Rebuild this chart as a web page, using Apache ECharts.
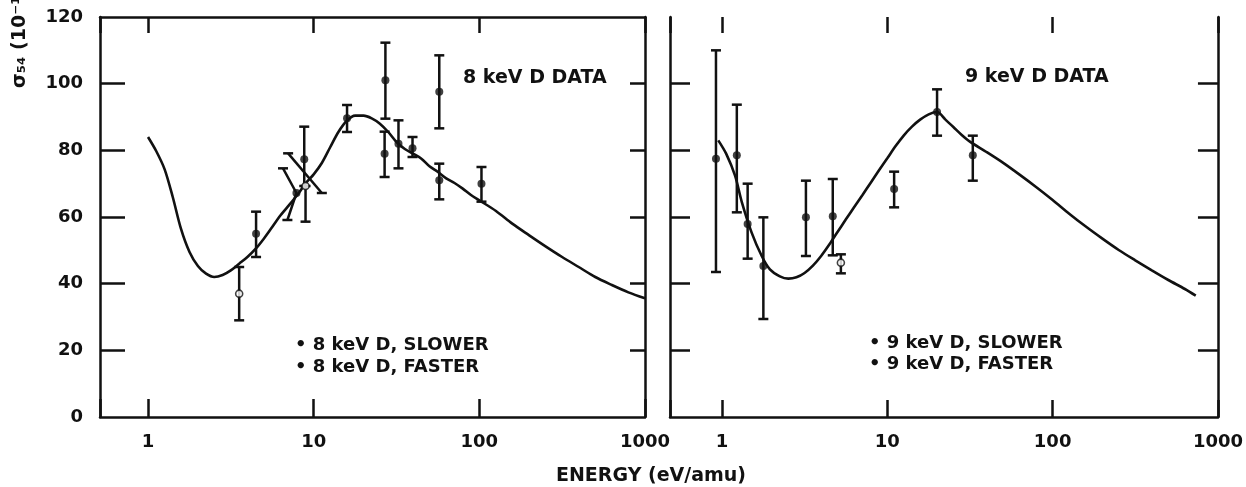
<!DOCTYPE html>
<html><head><meta charset="utf-8">
<script src="https://cdn.jsdelivr.net/npm/echarts@6/dist/echarts.min.js"></script>
<style>html,body{margin:0;padding:0;background:#fff}#c{width:1246px;height:487px}</style>
</head><body><div id="c"></div>
<script>
// ---- data ----
const yTickValues = [0, 20, 40, 60, 80, 100, 120];
const xTickLabels = ['1', '10', '100', '1000'];

// left panel: 8 keV D data — theory curve [energy eV/amu, sigma]
const leftCurve = [[1.0,84],[1.12,79.8],[1.26,74.3],[1.41,66],[1.58,56.5],[1.78,49.5],[2.0,45.3],[2.24,43],[2.51,42],[2.82,42.6],[3.16,44],[3.55,46],[3.98,48],[4.47,50.5],[5.0,53.5],[5.62,57],[6.31,60.5],[7.08,63.5],[7.94,66.5],[8.91,70],[10,72.8],[11.2,76.2],[12.6,81],[14.1,85.5],[15.8,88.8],[17.8,90.4],[20,90.4],[22.4,89.6],[25.1,88],[28.2,85.5],[31.6,82.5],[35.5,80.4],[39.8,79],[44.7,77.5],[50,75.2],[56.2,73.5],[63.1,71.6],[70.8,70.2],[79.4,68.5],[89,66.6],[100,65],[126,61.8],[158,58],[200,54.5],[251,51.2],[316,48],[398,45],[501,42],[631,39.6],[794,37.4],[1000,35.6]];
const leftFilled = [[4.49,55],[7.87,67.2],[8.77,77.3],[15.9,89.6],[27.1,101],[26.8,79],[32.5,82],[39.5,80.6],[57.3,97.6],[57.3,71],[103,70]];
const leftOpen = [[3.55,37],[8.93,69.3]];
const leftErrors = [[3.55,29,45],[4.49,48,61.6],[8.77,69.3,87.1],[8.93,58.6,69.3],[15.9,85.5,93.6],[27.1,89.5,112.3],[26.8,72,85.6],[32.5,74.6,89],[39.5,78,84],[57.3,86.6,108.5],[57.3,65.3,76],[103,64.6,75]];
// slanted bars: polylines [E1,v1,E2,v2,(E3,v3)]
const leftSlanted = [[7.01,79.1,11.2,67.2],[6.53,74.6,7.87,67.2,6.94,59.1]];

// right panel: 9 keV D data
const rightCurve = [[0.95,83],[1.06,79],[1.2,72.4],[1.32,64.4],[1.51,55.4],[1.74,48.3],[1.95,44.3],[2.24,42.2],[2.52,41.5],[2.82,41.9],[3.16,43.2],[3.55,45.4],[3.98,48.3],[4.47,51.8],[5.0,55.5],[5.62,59.3],[6.31,63],[7.08,66.6],[7.94,70.3],[8.91,74],[10,77.6],[11.2,81.2],[12.6,84.5],[14.1,87.1],[15.8,89.2],[17.8,90.8],[20,91.5],[22.4,89.3],[25.1,87],[28.2,84.6],[31.6,82.6],[39.8,79.5],[50,76.3],[63.1,72.7],[79.4,69],[100,65.1],[126,61],[158,57.2],[200,53.5],[251,50.1],[316,47],[398,44],[501,41.1],[631,38.4],[734,36.4]];
const rightFilled = [[0.92,77.5],[1.23,78.5],[1.43,57.9],[1.78,45.3],[3.22,59.9],[4.68,60.2],[11,68.4],[20,91.5],[32.9,78.5]];
const rightOpen = [[5.24,46.3]];
const rightErrors = [[0.92,43.5,110],[1.23,61.4,93.7],[1.43,47.5,70],[1.78,29.4,59.9],[3.22,48.3,70.9],[4.68,48.5,71.4],[5.24,43.1,48.8],[11,62.9,73.6],[20,84.4,98.3],[32.9,70.9,84.4]];

// ---- chart ----
const INK = '#111';
const FONT = 'DejaVu Sans';
function xLabel(v) {
  const l = Math.log10(v);
  const r = Math.round(l);
  return Math.abs(l - r) < 1e-6 && r >= 0 && r < xTickLabels.length ? xTickLabels[r] : '';
}
function xAxis(grid, pos, min, max, showLine, tickLen, showLabel) {
  return {
    type: 'log', logBase: 10, gridIndex: grid, position: pos, min: min, max: max,
    axisLine: { show: showLine, onZero: false, lineStyle: { color: INK, width: 2.5 } },
    axisTick: { show: true, inside: true, length: tickLen, lineStyle: { color: INK, width: 2.5 } },
    axisLabel: showLabel ? { show: true, formatter: xLabel, color: INK, fontFamily: FONT, fontWeight: 'bold', fontSize: 18, margin: 16 } : { show: false },
    splitLine: { show: false }, minorTick: { show: false }, minorSplitLine: { show: false }
  };
}
function yAxis(grid, pos, tickLen, showLabel) {
  return {
    type: 'value', gridIndex: grid, position: pos, min: 0, max: 120, interval: 20,
    axisLine: { show: true, onZero: false, lineStyle: { color: INK, width: 2.5 } },
    axisTick: { show: true, inside: true, length: tickLen, lineStyle: { color: INK, width: 2.5 }, customValues: yTickValues.slice(1, -1) },
    axisLabel: showLabel ? { show: true, color: INK, fontFamily: FONT, fontWeight: 'bold', fontSize: 18, margin: 17, customValues: yTickValues } : { show: false },
    splitLine: { show: false }
  };
}
const errRender = function (params, api) {
  const x = api.value(0), lo = api.value(1), hi = api.value(2);
  const p1 = api.coord([x, lo]), p2 = api.coord([x, hi]);
  const w = 5;
  const st = { stroke: INK, lineWidth: 2.5 };
  return { type: 'group', children: [
    { type: 'line', shape: { x1: p1[0], y1: p1[1], x2: p2[0], y2: p2[1] }, style: st },
    { type: 'line', shape: { x1: p1[0] - w, y1: p1[1], x2: p1[0] + w, y2: p1[1] }, style: st },
    { type: 'line', shape: { x1: p2[0] - w, y1: p2[1], x2: p2[0] + w, y2: p2[1] }, style: st }
  ]};
};
const slantRender = function (params, api) {
  const raw = leftSlanted[params.dataIndex];
  const pts = [];
  for (let i = 0; i + 1 < raw.length; i += 2) pts.push(api.coord([raw[i], raw[i + 1]]));
  const st = { stroke: INK, lineWidth: 2.5, fill: null };
  const a = pts[0], b = pts[pts.length - 1], w = 5;
  return { type: 'group', children: [
    { type: 'polyline', shape: { points: pts }, style: st },
    { type: 'line', shape: { x1: a[0] - w, y1: a[1], x2: a[0] + w, y2: a[1] }, style: st },
    { type: 'line', shape: { x1: b[0] - w, y1: b[1], x2: b[0] + w, y2: b[1] }, style: st }
  ]};
};
function panelSeries(ax, curve, filled, open, errors) {
  return [
    { type: 'line', xAxisIndex: ax, yAxisIndex: ax, data: curve, smooth: 0.3, showSymbol: false, silent: true,
      lineStyle: { color: INK, width: 2.6 }, z: 2 },
    { type: 'custom', xAxisIndex: ax, yAxisIndex: ax, data: errors, renderItem: errRender, silent: true, z: 3 },
    { type: 'scatter', xAxisIndex: ax, yAxisIndex: ax, data: filled, symbol: 'circle', symbolSize: 8,
      itemStyle: { color: INK }, silent: true, z: 4 },
    { type: 'scatter', xAxisIndex: ax, yAxisIndex: ax, data: open, symbol: 'circle', symbolSize: 7,
      itemStyle: { color: '#fff', borderColor: INK, borderWidth: 1.6 }, silent: true, z: 5 }
  ];
}
const txt = (x, y, text, extra) => ({
  type: 'text', x: x, y: y, silent: true,
  style: Object.assign({ text: text, fill: INK, font: 'bold 18px "' + FONT + '"', align: 'left', verticalAlign: 'middle' }, extra || {})
});

const option = {
  backgroundColor: '#fff',
  animation: false,
  grid: [
    { left: 100, top: 17, width: 545, height: 400 },
    { left: 670, top: 17, width: 548, height: 400 }
  ],
  xAxis: [
    xAxis(0, 'bottom', 0.513, 1000, true, 18, true),
    xAxis(0, 'top', 0.513, 1000, true, 16, false),
    xAxis(1, 'bottom', 0.485, 1000, true, 17, true),
    xAxis(1, 'top', 0.485, 1000, false, 16, false)
  ],
  yAxis: [
    yAxis(0, 'left', 25, true),
    yAxis(0, 'right', 15, false),
    yAxis(1, 'left', 20, false),
    yAxis(1, 'right', 20, false)
  ],
  series: [].concat(
    panelSeries(0, leftCurve, leftFilled, leftOpen, leftErrors),
    [{ type: 'custom', xAxisIndex: 0, yAxisIndex: 0, data: leftSlanted.map(function (d) { return [d[0], d[1]]; }), renderItem: slantRender, silent: true, z: 3 }],
    panelSeries(2, rightCurve, rightFilled, rightOpen, rightErrors)
  ),
  graphic: [
    txt(463, 78, '8 keV D DATA', { font: 'bold 19px "' + FONT + '"' }),
    txt(965, 77, '9 keV D DATA', { font: 'bold 19px "' + FONT + '"' }),
    txt(295, 345, '• 8 keV D, SLOWER'),
    txt(295, 367, '• 8 keV D, FASTER'),
    txt(869, 343, '• 9 keV D, SLOWER'),
    txt(869, 364, '• 9 keV D, FASTER'),
    txt(651, 476, 'ENERGY (eV/amu)', { align: 'center', font: 'bold 19px "' + FONT + '"' }),
    Object.assign(txt(20, 88, 'σ₅₄ (10⁻¹⁷ cm²)', { font: 'bold 19px "' + FONT + '"' }), { rotation: Math.PI / 2 })
  ]
};

const chart = echarts.init(document.getElementById('c'), null, { renderer: 'canvas' });
chart.setOption(option);
</script></body></html>
